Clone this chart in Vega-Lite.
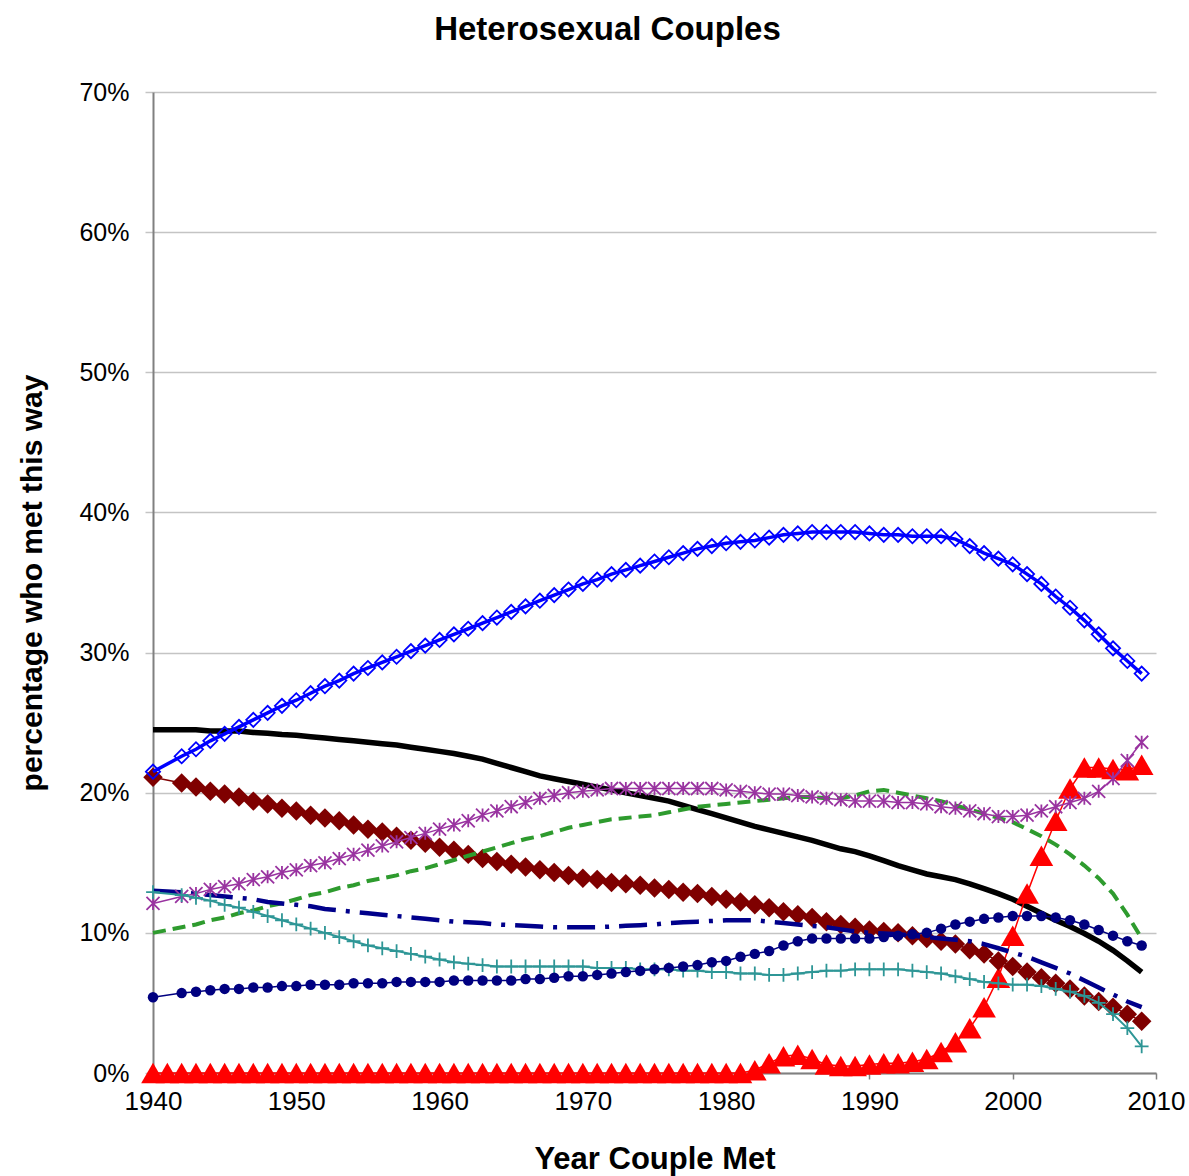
{
  "$schema": "https://vega.github.io/schema/vega-lite/v6.json",
  "width": 1003,
  "height": 981,
  "autosize": {"type": "none"},
  "padding": {"left": 153, "top": 92, "right": 33, "bottom": 103},
  "background": "white",
  "config": {"view": {"stroke": null}, "font": "Liberation Sans"},
  "title": {"text": "Heterosexual Couples", "fontSize": 33, "font": "Liberation Sans", "fontWeight": "bold", "anchor": "middle", "dx": -47, "offset": 33, "color": "black"},
  "datasets": {
    "onlineData": [
      {"year":1940,"online":0},{"year":1941,"online":0},{"year":1942,"online":0},{"year":1943,"online":0},{"year":1944,"online":0},
      {"year":1945,"online":0},{"year":1946,"online":0},{"year":1947,"online":0},{"year":1948,"online":0},{"year":1949,"online":0},
      {"year":1950,"online":0},{"year":1951,"online":0},{"year":1952,"online":0},{"year":1953,"online":0},{"year":1954,"online":0},
      {"year":1955,"online":0},{"year":1956,"online":0},{"year":1957,"online":0},{"year":1958,"online":0},{"year":1959,"online":0},
      {"year":1960,"online":0},{"year":1961,"online":0},{"year":1962,"online":0},{"year":1963,"online":0},{"year":1964,"online":0},
      {"year":1965,"online":0},{"year":1966,"online":0},{"year":1967,"online":0},{"year":1968,"online":0},{"year":1969,"online":0},
      {"year":1970,"online":0},{"year":1971,"online":0},{"year":1972,"online":0},{"year":1973,"online":0},{"year":1974,"online":0},
      {"year":1975,"online":0},{"year":1976,"online":0},{"year":1977,"online":0},{"year":1978,"online":0},{"year":1979,"online":0},
      {"year":1980,"online":0},{"year":1981,"online":0},{"year":1982,"online":0.2},{"year":1983,"online":0.7},{"year":1984,"online":1.2},
      {"year":1985,"online":1.3},{"year":1986,"online":1.0},{"year":1987,"online":0.6},{"year":1988,"online":0.5},{"year":1989,"online":0.5},
      {"year":1990,"online":0.6},{"year":1991,"online":0.7},{"year":1992,"online":0.7},{"year":1993,"online":0.8},{"year":1994,"online":1.0},
      {"year":1995,"online":1.5},{"year":1996,"online":2.2},{"year":1997,"online":3.2},{"year":1998,"online":4.7},{"year":1999,"online":6.8},
      {"year":2000,"online":9.8},{"year":2001,"online":12.8},{"year":2002,"online":15.5},{"year":2003,"online":18.0},{"year":2004,"online":20.3},
      {"year":2005,"online":21.8},{"year":2006,"online":21.8},{"year":2007,"online":21.7},{"year":2008,"online":21.6},{"year":2009,"online":22.0}
    ],
    "mainData": [
    {"year":1940,"friends":21.5,"family":24.5,"school":21.1,"bar":12.1,"cowork":10.0,"church":13.0,"neighbors":12.9,"college":5.4},
    {"year":1942,"friends":22.6,"family":24.5,"school":20.7,"bar":12.6,"cowork":10.4,"church":12.9,"neighbors":12.7,"college":5.7},
    {"year":1943,"friends":23.1,"family":24.5,"school":20.4,"bar":12.8,"cowork":10.6,"church":12.8,"neighbors":12.5,"college":5.8},
    {"year":1944,"friends":23.7,"family":24.4,"school":20.1,"bar":13.1,"cowork":10.9,"church":12.7,"neighbors":12.3,"college":5.9},
    {"year":1945,"friends":24.2,"family":24.4,"school":19.9,"bar":13.3,"cowork":11.1,"church":12.6,"neighbors":12.0,"college":6.0},
    {"year":1946,"friends":24.7,"family":24.4,"school":19.7,"bar":13.5,"cowork":11.4,"church":12.5,"neighbors":11.8,"college":6.0},
    {"year":1947,"friends":25.2,"family":24.3,"school":19.4,"bar":13.8,"cowork":11.6,"church":12.4,"neighbors":11.5,"college":6.1},
    {"year":1948,"friends":25.7,"family":24.25,"school":19.2,"bar":14.0,"cowork":11.9,"church":12.2,"neighbors":11.2,"college":6.1},
    {"year":1949,"friends":26.2,"family":24.15,"school":18.9,"bar":14.3,"cowork":12.1,"church":12.1,"neighbors":10.9,"college":6.2},
    {"year":1950,"friends":26.6,"family":24.1,"school":18.7,"bar":14.5,"cowork":12.4,"church":12.0,"neighbors":10.6,"college":6.2},
    {"year":1951,"friends":27.1,"family":24.0,"school":18.4,"bar":14.8,"cowork":12.7,"church":11.9,"neighbors":10.3,"college":6.3},
    {"year":1952,"friends":27.6,"family":23.9,"school":18.2,"bar":15.0,"cowork":12.9,"church":11.7,"neighbors":10.0,"college":6.3},
    {"year":1953,"friends":28.0,"family":23.8,"school":18.0,"bar":15.3,"cowork":13.2,"church":11.6,"neighbors":9.7,"college":6.3},
    {"year":1954,"friends":28.5,"family":23.7,"school":17.7,"bar":15.6,"cowork":13.4,"church":11.5,"neighbors":9.4,"college":6.4},
    {"year":1955,"friends":28.9,"family":23.6,"school":17.4,"bar":15.9,"cowork":13.7,"church":11.4,"neighbors":9.1,"college":6.4},
    {"year":1956,"friends":29.3,"family":23.5,"school":17.2,"bar":16.2,"cowork":13.9,"church":11.3,"neighbors":8.9,"college":6.4},
    {"year":1957,"friends":29.7,"family":23.4,"school":16.9,"bar":16.5,"cowork":14.1,"church":11.2,"neighbors":8.7,"college":6.5},
    {"year":1958,"friends":30.1,"family":23.25,"school":16.6,"bar":16.8,"cowork":14.4,"church":11.1,"neighbors":8.5,"college":6.5},
    {"year":1959,"friends":30.5,"family":23.1,"school":16.4,"bar":17.1,"cowork":14.6,"church":11.0,"neighbors":8.3,"college":6.5},
    {"year":1960,"friends":30.9,"family":22.95,"school":16.1,"bar":17.4,"cowork":14.9,"church":10.9,"neighbors":8.1,"college":6.5},
    {"year":1961,"friends":31.3,"family":22.8,"school":15.9,"bar":17.7,"cowork":15.2,"church":10.8,"neighbors":7.9,"college":6.6},
    {"year":1962,"friends":31.7,"family":22.6,"school":15.6,"bar":18.0,"cowork":15.5,"church":10.75,"neighbors":7.8,"college":6.6},
    {"year":1963,"friends":32.1,"family":22.4,"school":15.3,"bar":18.4,"cowork":15.8,"church":10.7,"neighbors":7.7,"college":6.6},
    {"year":1964,"friends":32.5,"family":22.1,"school":15.1,"bar":18.7,"cowork":16.1,"church":10.6,"neighbors":7.6,"college":6.6},
    {"year":1965,"friends":32.9,"family":21.8,"school":14.9,"bar":19.0,"cowork":16.4,"church":10.55,"neighbors":7.6,"college":6.6},
    {"year":1966,"friends":33.3,"family":21.5,"school":14.7,"bar":19.3,"cowork":16.7,"church":10.5,"neighbors":7.6,"college":6.7},
    {"year":1967,"friends":33.7,"family":21.2,"school":14.5,"bar":19.6,"cowork":16.9,"church":10.45,"neighbors":7.6,"college":6.7},
    {"year":1968,"friends":34.1,"family":21.0,"school":14.3,"bar":19.8,"cowork":17.2,"church":10.4,"neighbors":7.6,"college":6.8},
    {"year":1969,"friends":34.5,"family":20.8,"school":14.1,"bar":20.0,"cowork":17.5,"church":10.4,"neighbors":7.6,"college":6.9},
    {"year":1970,"friends":34.9,"family":20.6,"school":13.9,"bar":20.1,"cowork":17.7,"church":10.4,"neighbors":7.6,"college":6.9},
    {"year":1971,"friends":35.2,"family":20.4,"school":13.8,"bar":20.2,"cowork":17.9,"church":10.4,"neighbors":7.5,"college":7.0},
    {"year":1972,"friends":35.6,"family":20.2,"school":13.6,"bar":20.3,"cowork":18.1,"church":10.45,"neighbors":7.5,"college":7.1},
    {"year":1973,"friends":35.9,"family":20.0,"school":13.5,"bar":20.3,"cowork":18.2,"church":10.5,"neighbors":7.5,"college":7.2},
    {"year":1974,"friends":36.2,"family":19.8,"school":13.4,"bar":20.3,"cowork":18.3,"church":10.55,"neighbors":7.4,"college":7.3},
    {"year":1975,"friends":36.5,"family":19.6,"school":13.2,"bar":20.3,"cowork":18.4,"church":10.6,"neighbors":7.4,"college":7.4},
    {"year":1976,"friends":36.8,"family":19.4,"school":13.1,"bar":20.3,"cowork":18.6,"church":10.7,"neighbors":7.4,"college":7.5},
    {"year":1977,"friends":37.1,"family":19.1,"school":12.9,"bar":20.3,"cowork":18.8,"church":10.75,"neighbors":7.3,"college":7.6},
    {"year":1978,"friends":37.4,"family":18.8,"school":12.8,"bar":20.3,"cowork":19.0,"church":10.8,"neighbors":7.3,"college":7.7},
    {"year":1979,"friends":37.6,"family":18.5,"school":12.6,"bar":20.3,"cowork":19.1,"church":10.85,"neighbors":7.2,"college":7.9},
    {"year":1980,"friends":37.8,"family":18.2,"school":12.4,"bar":20.2,"cowork":19.2,"church":10.9,"neighbors":7.2,"college":8.0},
    {"year":1981,"friends":37.9,"family":17.9,"school":12.2,"bar":20.1,"cowork":19.3,"church":10.9,"neighbors":7.1,"college":8.3},
    {"year":1982,"friends":38.0,"family":17.6,"school":12.0,"bar":20.0,"cowork":19.4,"church":10.9,"neighbors":7.1,"college":8.5},
    {"year":1983,"friends":38.2,"family":17.35,"school":11.8,"bar":19.9,"cowork":19.5,"church":10.8,"neighbors":7.0,"college":8.7},
    {"year":1984,"friends":38.4,"family":17.1,"school":11.5,"bar":19.9,"cowork":19.6,"church":10.7,"neighbors":7.0,"college":9.1},
    {"year":1985,"friends":38.5,"family":16.85,"school":11.3,"bar":19.8,"cowork":19.7,"church":10.6,"neighbors":7.1,"college":9.4},
    {"year":1986,"friends":38.6,"family":16.6,"school":11.1,"bar":19.7,"cowork":19.7,"church":10.5,"neighbors":7.2,"college":9.6},
    {"year":1987,"friends":38.6,"family":16.3,"school":10.8,"bar":19.6,"cowork":19.6,"church":10.4,"neighbors":7.3,"college":9.6},
    {"year":1988,"friends":38.6,"family":16.0,"school":10.6,"bar":19.5,"cowork":19.6,"church":10.25,"neighbors":7.3,"college":9.6},
    {"year":1989,"friends":38.6,"family":15.8,"school":10.4,"bar":19.4,"cowork":19.8,"church":10.1,"neighbors":7.4,"college":9.6},
    {"year":1990,"friends":38.5,"family":15.5,"school":10.2,"bar":19.4,"cowork":20.1,"church":10.0,"neighbors":7.4,"college":9.6},
    {"year":1991,"friends":38.4,"family":15.15,"school":10.1,"bar":19.4,"cowork":20.2,"church":9.95,"neighbors":7.4,"college":9.7},
    {"year":1992,"friends":38.4,"family":14.8,"school":10.0,"bar":19.3,"cowork":20.0,"church":9.9,"neighbors":7.4,"college":9.8},
    {"year":1993,"friends":38.3,"family":14.5,"school":9.8,"bar":19.3,"cowork":19.8,"church":9.8,"neighbors":7.3,"college":9.9},
    {"year":1994,"friends":38.3,"family":14.2,"school":9.6,"bar":19.2,"cowork":19.6,"church":9.7,"neighbors":7.2,"college":10.0},
    {"year":1995,"friends":38.3,"family":14.0,"school":9.4,"bar":19.0,"cowork":19.4,"church":9.6,"neighbors":7.1,"college":10.3},
    {"year":1996,"friends":38.1,"family":13.8,"school":9.2,"bar":18.9,"cowork":19.1,"church":9.5,"neighbors":6.9,"college":10.6},
    {"year":1997,"friends":37.6,"family":13.5,"school":8.8,"bar":18.7,"cowork":18.8,"church":9.4,"neighbors":6.7,"college":10.8},
    {"year":1998,"friends":37.1,"family":13.15,"school":8.5,"bar":18.5,"cowork":18.5,"church":9.2,"neighbors":6.5,"college":11.0},
    {"year":1999,"friends":36.7,"family":12.8,"school":8.0,"bar":18.3,"cowork":18.2,"church":8.9,"neighbors":6.4,"college":11.1},
    {"year":2000,"friends":36.3,"family":12.4,"school":7.6,"bar":18.3,"cowork":17.9,"church":8.6,"neighbors":6.3,"college":11.2},
    {"year":2001,"friends":35.6,"family":11.9,"school":7.2,"bar":18.4,"cowork":17.4,"church":8.3,"neighbors":6.3,"college":11.2},
    {"year":2002,"friends":34.9,"family":11.4,"school":6.8,"bar":18.7,"cowork":16.9,"church":7.9,"neighbors":6.2,"college":11.2},
    {"year":2003,"friends":34.0,"family":10.9,"school":6.4,"bar":19.0,"cowork":16.3,"church":7.5,"neighbors":6.0,"college":11.1},
    {"year":2004,"friends":33.2,"family":10.45,"school":6.0,"bar":19.3,"cowork":15.6,"church":7.1,"neighbors":5.8,"college":10.9},
    {"year":2005,"friends":32.3,"family":9.95,"school":5.5,"bar":19.6,"cowork":14.8,"church":6.6,"neighbors":5.5,"college":10.6},
    {"year":2006,"friends":31.3,"family":9.4,"school":5.1,"bar":20.1,"cowork":13.9,"church":6.1,"neighbors":5.0,"college":10.2},
    {"year":2007,"friends":30.3,"family":8.75,"school":4.7,"bar":21.0,"cowork":12.8,"church":5.6,"neighbors":4.2,"college":9.8},
    {"year":2008,"friends":29.4,"family":8.0,"school":4.2,"bar":22.3,"cowork":11.3,"church":5.1,"neighbors":3.2,"college":9.4},
    {"year":2009,"friends":28.5,"family":7.2,"school":3.7,"bar":23.6,"cowork":9.6,"church":4.7,"neighbors":1.9,"college":9.1}
    ]
  },
  "data": {"name": "mainData"},
  "encoding": {
    "x": {"field": "year", "type": "quantitative",
      "scale": {"domain": [1940, 2010], "nice": false, "zero": false},
      "axis": {"values": [1940, 1950, 1960, 1970, 1980, 1990, 2000, 2010], "format": "d", "grid": false,
        "title": "Year Couple Met", "titleFontSize": 31, "titleFontWeight": "bold", "titleColor": "black", "titlePadding": 30,
        "labelFontSize": 26, "labelColor": "black", "labelPadding": 9, "labelFlush": false,
        "tickSize": 6, "tickColor": "#808080", "tickWidth": 1.5, "domainColor": "#808080", "domainWidth": 2}}
  },
  "layer": [
    {"mark": {"type": "line", "color": "#000000", "strokeWidth": 5.5},
     "encoding": {"y": {"field": "family", "type": "quantitative",
       "scale": {"domain": [0, 70], "nice": false},
       "axis": {"values": [0, 10, 20, 30, 40, 50, 60, 70], "labelExpr": "datum.value + '%'",
         "title": "percentage who met this way", "titleFontSize": 30, "titleFontWeight": "bold", "titleColor": "black", "titlePadding": 31,
         "labelFontSize": 25, "labelColor": "black", "labelPadding": 16,
         "grid": true, "gridColor": "#C4C4C4", "gridWidth": 1.5,
         "tickSize": 8, "tickColor": "#C4C4C4", "tickWidth": 1.5,
         "domainColor": "#808080", "domainWidth": 2}}}},
    {"data": {"name": "onlineData"},
     "mark": {"type": "line", "color": "#FF0000", "strokeWidth": 1.5,
       "point": {"shape": "triangle-up", "filled": true, "fill": "#FF0000", "size": 560, "strokeWidth": 0}},
     "encoding": {"y": {"field": "online", "type": "quantitative"}}},
    {"mark": {"type": "line", "color": "#7F0000", "strokeWidth": 1.5,
       "point": {"shape": "diamond", "filled": true, "fill": "#7F0000", "size": 380, "strokeWidth": 0}},
     "encoding": {"y": {"field": "school", "type": "quantitative"}}},
    {"mark": {"type": "line", "color": "#2E9B2E", "strokeWidth": 4, "strokeDash": [13, 7]},
     "encoding": {"y": {"field": "cowork", "type": "quantitative"}}},
    {"mark": {"type": "line", "color": "#00008B", "strokeWidth": 4.5, "strokeDash": [28, 10, 4, 10]},
     "encoding": {"y": {"field": "church", "type": "quantitative"}}},
    {"mark": {"type": "line", "color": "#9933A0", "strokeWidth": 1.5,
       "point": {"shape": "M-1,-1L1,1M-1,1L1,-1M0,-1L0,1", "filled": false, "stroke": "#9933A0", "size": 170, "strokeWidth": 1.8}},
     "encoding": {"y": {"field": "bar", "type": "quantitative"}}},
    {"mark": {"type": "line", "color": "#2E9696", "strokeWidth": 2,
       "point": {"shape": "M-1,0L1,0M0,-1L0,1", "filled": false, "stroke": "#2E9696", "size": 190, "strokeWidth": 1.8}},
     "encoding": {"y": {"field": "neighbors", "type": "quantitative"}}},
    {"mark": {"type": "line", "color": "#000080", "strokeWidth": 1.5,
       "point": {"shape": "circle", "filled": true, "fill": "#000080", "size": 110, "strokeWidth": 0}},
     "encoding": {"y": {"field": "college", "type": "quantitative"}}},
    {"mark": {"type": "line", "color": "#0000FF", "strokeWidth": 3.5,
       "point": {"shape": "diamond", "filled": false, "stroke": "#0000FF", "fill": "white", "fillOpacity": 0, "size": 200, "strokeWidth": 1.8}},
     "encoding": {"y": {"field": "friends", "type": "quantitative"}}}
  ]
}
